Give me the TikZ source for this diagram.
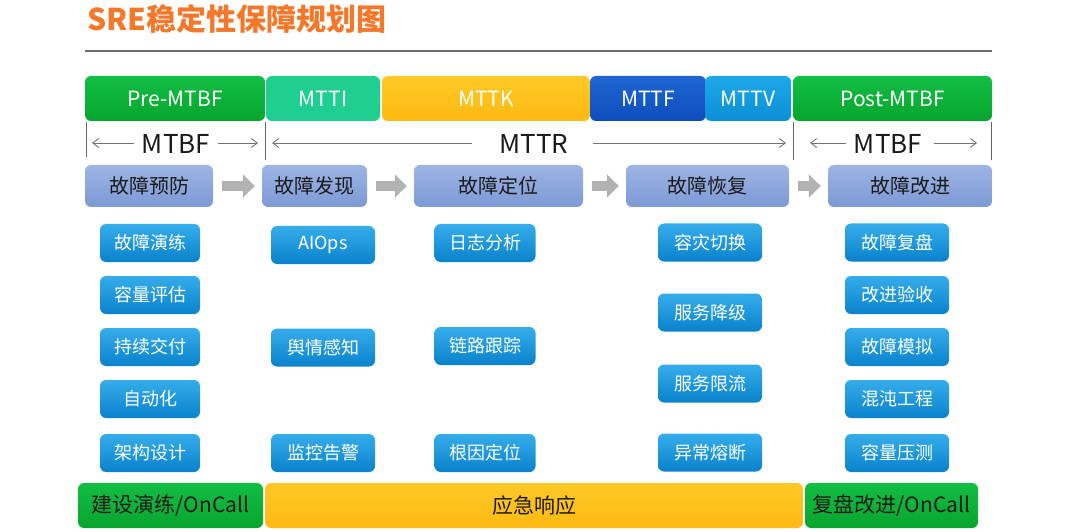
\documentclass[tikz,border=0pt]{standalone}
\usepackage{fontspec}
\setmainfont{Noto Sans CJK SC}
\usetikzlibrary{arrows.meta}
\definecolor{titleor}{HTML}{F5772A}
\definecolor{gtop}{HTML}{12BE44}
\definecolor{gbot}{HTML}{08A52E}
\definecolor{teal}{HTML}{1FCF8F}
\definecolor{ytop}{HTML}{FFC826}
\definecolor{ybot}{HTML}{FDBA12}
\definecolor{dbtop}{HTML}{1E66D2}
\definecolor{dbbot}{HTML}{0E4DBC}
\definecolor{mbtop}{HTML}{1EA8E8}
\definecolor{mbbot}{HTML}{0C8FD6}
\definecolor{ptop}{HTML}{9DB5E4}
\definecolor{pbot}{HTML}{7D99D5}
\definecolor{stop}{HTML}{35ADEB}
\definecolor{sbot}{HTML}{0A82CC}
\definecolor{darktxt}{HTML}{1A1A1A}
\tikzset{
  basebox/.style={rounded corners=6pt, inner sep=0pt, align=center},
  topbox/.style={basebox, minimum height=45pt, text=white, font=\fontsize{21}{23}\selectfont},
  procbox/.style={basebox, minimum height=42pt, top color=ptop, bottom color=pbot, text=darktxt, font=\fontsize{20}{22}\selectfont},
  subbox/.style={basebox, minimum height=38pt, minimum width=102pt, top color=stop, bottom color=sbot, text=white, font=\fontsize{18}{20}\selectfont},
  botbox/.style={basebox, minimum height=45pt, text=darktxt, font=\fontsize{21}{23}\selectfont},
  greenfill/.style={top color=gtop, bottom color=gbot},
  yellowfill/.style={top color=ytop, bottom color=ybot},
  dimlabel/.style={inner sep=0pt, text=darktxt, font=\fontsize{26}{28}\selectfont},
  dimarrow/.style={draw=gray!90!black, line width=0.9pt, -{Straight Barb[length=6pt,width=9pt]}},
  tick/.style={draw=gray!80!black, line width=1pt},
  blockarrow/.style={draw=gray!60, line width=10pt, -{Triangle[length=12pt,width=23pt]}, shorten <=9pt, shorten >=7pt}
}
\begin{document}
\begin{tikzpicture}[x=1pt,y=-1pt]
\useasboundingbox (0,0) rectangle (1080,532);
% title
\node[anchor=west, inner sep=0pt, text=titleor, font=\fontsize{30}{32}\selectfont\bfseries] (title) at (87,19) {SRE稳定性保障规划图};
\coordinate (rl) at (85,51);
\coordinate (rr) at (992,51);
\draw[draw=gray!85!black, line width=2pt] (rl) -- (rr);
% top row
\node[topbox, greenfill, minimum width=180pt] (pre) at (175,98.5) {Pre-MTBF};
\node[topbox, fill=teal, minimum width=114pt] (mtti) at (323,98.5) {MTTI};
\node[topbox, yellowfill, minimum width=208pt] (mttk) at (486,98.5) {MTTK};
\node[topbox, top color=dbtop, bottom color=dbbot, minimum width=116pt] (mttf) at (648,98.5) {MTTF};
\node[topbox, top color=mbtop, bottom color=mbbot, minimum width=86pt] (mttv) at (748,98.5) {MTTV};
\node[topbox, greenfill, minimum width=199pt] (post) at (892.5,98.5) {Post-MTBF};
% dimension ticks
\coordinate (t1a) at (86,122); \coordinate (t1b) at (86,157);
\coordinate (t2a) at (265,122); \coordinate (t2b) at (265,160);
\coordinate (t3a) at (793,122); \coordinate (t3b) at (793,160);
\coordinate (t4a) at (991,122); \coordinate (t4b) at (991,160);
\draw[tick] (t1a) -- (t1b);
\draw[tick] (t2a) -- (t2b);
\draw[tick] (t3a) -- (t3b);
\draw[tick] (t4a) -- (t4b);
% dimension labels
\node[dimlabel] (mtbf1) at (176,144) {MTBF};
\node[dimlabel] (mttr) at (534,144) {MTTR};
\node[dimlabel] (mtbf2) at (888,144) {MTBF};
\coordinate (a1l) at (92,143); \coordinate (a1r) at (258,143);
\coordinate (a2l) at (272,143); \coordinate (a2r) at (786,143);
\coordinate (a3l) at (810,143); \coordinate (a3r) at (977,143);
\draw[dimarrow] ([xshift=-8pt]mtbf1.west |- a1l) -- (a1l);
\draw[dimarrow] ([xshift=8pt]mtbf1.east |- a1r) -- (a1r);
\draw[dimarrow] ([xshift=-27pt]mttr.west |- a2l) -- (a2l);
\draw[dimarrow] ([xshift=24pt]mttr.east |- a2r) -- (a2r);
\draw[dimarrow] ([xshift=-8pt]mtbf2.west |- a3l) -- (a3l);
\draw[dimarrow] ([xshift=12pt]mtbf2.east |- a3r) -- (a3r);
% process row
\node[procbox, minimum width=128pt] (p1) at (149,186) {故障预防};
\node[procbox, minimum width=105pt] (p2) at (314.5,186) {故障发现};
\node[procbox, minimum width=169pt] (p3) at (498.5,186) {故障定位};
\node[procbox, minimum width=163pt] (p4) at (707.5,186) {故障恢复};
\node[procbox, minimum width=164pt] (p5) at (910,186) {故障改进};
\draw[blockarrow] (p1) -- (p2);
\draw[blockarrow] (p2) -- (p3);
\draw[blockarrow] (p3) -- (p4);
\draw[blockarrow] (p4) -- (p5);
% column 1
\node[subbox, minimum width=100pt] (c1a) at (150,243) {故障演练};
\node[subbox, minimum width=100pt] (c1b) at (150,295) {容量评估};
\node[subbox, minimum width=100pt] (c1c) at (150,347) {持续交付};
\node[subbox, minimum width=100pt] (c1d) at (150,399) {自动化};
\node[subbox, minimum width=100pt] (c1e) at (150,453) {架构设计};
% column 2
\node[subbox, minimum width=104pt] (c2a) at (323,245) {AIOps};
\node[subbox, minimum width=104pt] (c2b) at (323,347.5) {舆情感知};
\node[subbox, minimum width=104pt] (c2c) at (323,453) {监控告警};
% column 3
\node[subbox, minimum width=101pt] (c3a) at (485,243) {日志分析};
\node[subbox, minimum width=101pt] (c3b) at (485,346) {链路跟踪};
\node[subbox, minimum width=101pt] (c3c) at (485,453) {根因定位};
% column 4
\node[subbox, minimum width=104pt] (c4a) at (710,242.5) {容灾切换};
\node[subbox, minimum width=104pt] (c4b) at (710,312.5) {服务降级};
\node[subbox, minimum width=104pt] (c4c) at (710,383.5) {服务限流};
\node[subbox, minimum width=104pt] (c4d) at (710,452.5) {异常熔断};
% column 5
\node[subbox, minimum width=104pt] (c5a) at (897,242.5) {故障复盘};
\node[subbox, minimum width=104pt] (c5b) at (897,295) {改进验收};
\node[subbox, minimum width=104pt] (c5c) at (897,347) {故障模拟};
\node[subbox, minimum width=104pt] (c5d) at (897,399) {混沌工程};
\node[subbox, minimum width=104pt] (c5e) at (897,453) {容量压测};
% bottom row
\node[botbox, greenfill, minimum width=185pt] (b1) at (170.5,505.5) {建设演练/OnCall};
\node[botbox, yellowfill, minimum width=538pt] (b2) at (534,505.5) {应急响应};
\node[botbox, greenfill, minimum width=173pt] (b3) at (891.5,505.5) {复盘改进/OnCall};
\end{tikzpicture}
\end{document}
